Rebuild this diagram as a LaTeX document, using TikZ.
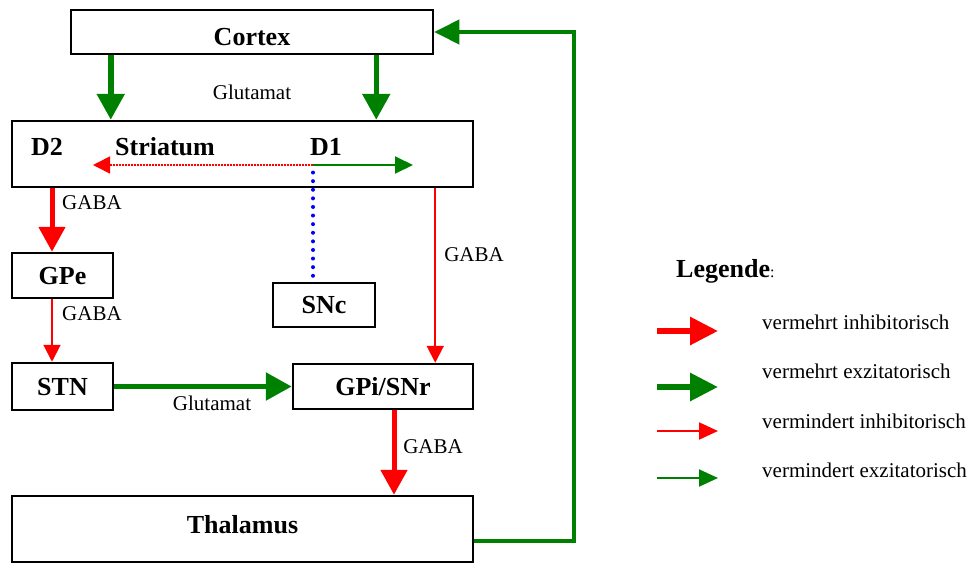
\documentclass[tikz,border=0pt]{standalone}
\usepackage{fontspec}
\setmainfont{Liberation Serif}
\usetikzlibrary{arrows.meta,positioning,calc}
\definecolor{excgreen}{RGB}{0,128,0}
\definecolor{inhred}{RGB}{255,0,0}
\definecolor{dopablue}{RGB}{0,0,255}

\begin{document}
\begin{tikzpicture}[x=1pt, y=-1pt, >=Triangle]
    \tikzstyle{block} = [rectangle, draw=black, line width=2.5pt, inner sep=0pt, text depth=0pt, font=\fontsize{26}{28}\selectfont\bfseries]
    \tikzstyle{tag} = [inner sep=0pt, font=\fontsize{21}{24}\selectfont]
    \tikzstyle{inhthick} = [draw, inhred, line width=5pt, -{Triangle[length=25pt, width=26pt]}]
    \tikzstyle{inhthin} = [draw, inhred, line width=2pt, -{Triangle[length=17pt, width=17pt]}]
    \tikzstyle{excthick} = [draw, excgreen, line width=5.5pt, -{Triangle[length=26pt, width=27pt]}]
    \tikzstyle{excthin} = [draw, excgreen, line width=2pt, -{Triangle[length=18pt, width=17pt]}]
    \tikzstyle{dopa} = [draw, dopablue, line width=4pt, line cap=round, dash pattern=on 0pt off 8.6pt]

    \useasboundingbox (0,0) rectangle (974,563);

    % Kerne
    \node [block, minimum width=362pt, minimum height=44pt, text height=26pt] (cortex) at (252,32) {Cortex};
    \node [block, minimum width=461pt, minimum height=66pt] (striatum) at (242.5,154) {};
    \node [block, minimum width=101pt, minimum height=45pt] (gpe) at (62.5,275.5) {GPe};
    \node [block, minimum width=102pt, minimum height=44pt] (snc) at (324,305) {SNc};
    \node [block, minimum width=101pt, minimum height=47pt] (stn) at (62.5,386.5) {STN};
    \node [block, minimum width=180pt, minimum height=45pt] (gpi) at (383,386.5) {GPi/SNr};
    \node [block, minimum width=461pt, minimum height=66pt, text height=18pt, text depth=10pt] (thalamus) at (242.5,529) {Thalamus};

    \node [anchor=base, font=\fontsize{26}{28}\selectfont\bfseries] (d2) at (47,155) {D2};
    \node [anchor=base, font=\fontsize{26}{28}\selectfont\bfseries] (strlabel) at (165,155) {Striatum};
    \node [anchor=base, font=\fontsize{26}{28}\selectfont\bfseries] (d1) at (326,155) {D1};

    \coordinate (dsplit) at (313,165);
    \coordinate (dleft) at (93,165);
    \coordinate (dright) at (413,165);
    \coordinate (cl) at ([xshift=41pt]cortex.south west);
    \coordinate (cr) at ([xshift=-58pt]cortex.south east);
    \coordinate (gabal) at ([xshift=-10.5pt]gpe.north);
    \coordinate (gabar) at ([xshift=-39pt]striatum.south east);
    \coordinate (gpiout) at ([xshift=11pt]gpi.south);
    \coordinate (fb) at (574,32);

    % Verbindungen
    \path [excthick] (cl) -- (cl |- striatum.north);
    \path [excthick] (cr) -- (cr |- striatum.north);
    \path [inhthin, line width=1.6pt, dash pattern=on 1.6pt off 1.4pt] (dsplit) -- (dleft);
    \path [excthin] (dsplit) -- (dright);
    \path [dopa, shorten <=6pt, shorten >=2pt] (snc.north -| dsplit) -- (dsplit);
    \path [inhthick] (gabal |- striatum.south) -- (gabal);
    \path [inhthin] (gabal |- gpe.south) -- (gabal |- stn.north);
    \path [inhthin] (gabar) -- (gabar |- gpi.north);
    \path [excthick] (stn.east) -- (gpi.west);
    \path [inhthick] (gpiout) -- (gpiout |- thalamus.north);
    \path [excgreen, draw, line width=4pt, -{Triangle[length=25pt, width=24pt]}] ([yshift=-12pt]thalamus.east) -| (fb) -- (cortex.east);

    % Transmitter
    \node [tag] (glu1) at (252,92) {Glutamat};
    \node [tag] (gaba1) at (92,203) {GABA};
    \node [tag] (gaba2) at (92,314) {GABA};
    \node [tag] (gaba3) at (474,255) {GABA};
    \node [tag] (glu2) at (212,403) {Glutamat};
    \node [tag] (gaba4) at (433,447) {GABA};

    % Legende
    \node [anchor=base west, inner sep=0pt, font=\fontsize{26}{28}\selectfont\bfseries] (legtitle) at (676,277) {Legende{\fontsize{16}{18}\selectfont\mdseries:}};
    \coordinate (l1a) at (657,331); \coordinate (l1b) at (718,331);
    \coordinate (l2a) at (657,387); \coordinate (l2b) at (718,387);
    \coordinate (l3a) at (657,431); \coordinate (l3b) at (718,431);
    \coordinate (l4a) at (657,478); \coordinate (l4b) at (718,478);
    \path [inhthick, line width=6pt, -{Triangle[length=28pt, width=27pt]}] (l1a) -- (l1b);
    \path [excthick, line width=6pt, -{Triangle[length=28pt, width=27pt]}] (l2a) -- (l2b);
    \path [inhthin, -{Triangle[length=19pt, width=17pt]}] (l3a) -- (l3b);
    \path [excthin, -{Triangle[length=19pt, width=17pt]}] (l4a) -- (l4b);
    \node [tag, anchor=west] (leg1) at (762,322) {vermehrt inhibitorisch};
    \node [tag, anchor=west] (leg2) at (762,371) {vermehrt exzitatorisch};
    \node [tag, anchor=west] (leg3) at (762,421) {vermindert inhibitorisch};
    \node [tag, anchor=west] (leg4) at (762,470) {vermindert exzitatorisch};
  \end{tikzpicture}
\end{document}
